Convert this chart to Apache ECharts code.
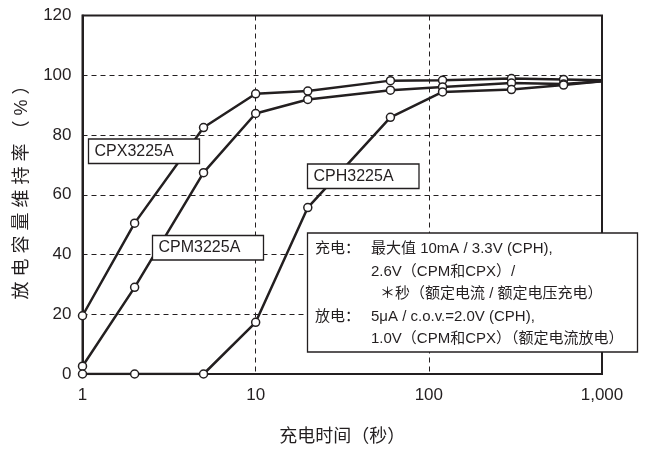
<!DOCTYPE html>
<html>
<head>
<meta charset="utf-8">
<script src="https://cdn.jsdelivr.net/npm/echarts@6/dist/echarts.min.js"></script>
<style>
html,body{margin:0;padding:0;background:#fff;}
#c{width:649px;height:451px;}
</style>
</head>
<body>
<div id="c"></div>
<script>
// ---- data ----
var chargeTimes = [1, 2, 5, 10, 20, 60, 120, 300, 600, 1000];
var cpxValues = [19.5, 50.5, 82.5, 93.8, 94.7, 98.2, 98.3, 98.9, 98.6, 98.3];
var cpmValues = [2.6, 29, 67.4, 87.2, 91.9, 95.0, 96.1, 97.4, 97.1, 98.0];
var cphValues = [0, 0, 0, 17.3, 55.7, 85.9, 94.4, 95.2, 96.7, 98.0];
var seriesNames = ['CPX3225A', 'CPM3225A', 'CPH3225A'];
var yTicks = [0, 20, 40, 60, 80, 100, 120];
var xTickLabels = {1: '1', 10: '10', 100: '100', 1000: '1,000'};
var xAxisTitle = '充电时间（秒）';
var yAxisTitle = '放电容量维持率（%）';
var noteLabels = ['充电：', '放电：'];
var noteLines = ['最大值 10mA / 3.3V (CPH),', '2.6V（CPM和CPX）/', '＊秒（额定电流 / 额定电压充电）',
                 '5μA / c.o.v.=2.0V (CPH),', '1.0V（CPM和CPX）（额定电流放电）'];

var INK = '#231f20';
var FONT = '"Liberation Sans", Arial, "Noto Sans CJK SC", sans-serif';
var CJK = '"Liberation Sans", "Noto Sans CJK SC", sans-serif';

function pairs(vals) {
  return chargeTimes.map(function (t, i) {
    var d = { value: [t, vals[i]] };
    if (i === chargeTimes.length - 1) d.symbol = 'none';
    return d;
  });
}

function mkSeries(name, vals) {
  return {
    name: name, type: 'line', data: pairs(vals),
    symbol: 'circle', symbolSize: 8, showAllSymbol: true,
    lineStyle: { color: INK, width: 2.5 },
    itemStyle: { color: '#fff', borderColor: INK, borderWidth: 1.5 },
    emphasis: { disabled: true }, animation: false, z: 3
  };
}

function labelBox(x, y, w, h, text) {
  return {
    type: 'group', z: 50, children: [
      { type: 'rect', shape: { x: x, y: y, width: w, height: h },
        style: { fill: '#fff', stroke: INK, lineWidth: 1.3 }, z: 50 },
      { type: 'text', x: x + 6, y: y + h / 2,
        style: { text: text, font: '16px ' + FONT, fill: INK, verticalAlign: 'middle' }, z: 51 }
    ]
  };
}

var noteChildren = [
  { type: 'rect', shape: { x: 307.5, y: 233, width: 330, height: 119 },
    style: { fill: '#fff', stroke: INK, lineWidth: 1.3 }, z: 50 }
];
var lineY = [249, 271.5, 294, 316.5, 339];
var lineX = [371, 371, 380, 371, 371];
noteChildren.push({ type: 'text', x: 315, y: lineY[0], style: { text: noteLabels[0], font: '15px ' + CJK, fill: INK, verticalAlign: 'middle' }, z: 51 });
noteChildren.push({ type: 'text', x: 315, y: lineY[3], style: { text: noteLabels[1], font: '15px ' + CJK, fill: INK, verticalAlign: 'middle' }, z: 51 });
noteLines.forEach(function (t, i) {
  noteChildren.push({ type: 'text', x: lineX[i], y: lineY[i],
    style: { text: t, font: '15px ' + CJK, fill: INK, verticalAlign: 'middle' }, z: 51 });
});

var chart = echarts.init(document.getElementById('c'), null, { renderer: 'canvas' });
chart.setOption({
  animation: false,
  backgroundColor: '#fff',
  grid: { left: 82.5, right: 47, top: 15.5, bottom: 75.5, show: true, borderColor: INK, borderWidth: 2, containLabel: false },
  xAxis: {
    type: 'log', logBase: 10, min: 1, max: 1000,
    name: xAxisTitle, nameLocation: 'middle', nameGap: 54,
    nameTextStyle: { fontSize: 18, color: INK, fontFamily: CJK },
    axisLine: { show: true, lineStyle: { color: INK, width: 2 } },
    axisTick: { show: false },
    minorTick: { show: false },
    axisLabel: { fontSize: 17, color: INK, fontFamily: FONT, margin: 13,
      formatter: function (v) { return xTickLabels[Math.round(v)] || ''; } },
    splitLine: { show: true, lineStyle: { color: INK, type: [5, 4], width: 1 } }
  },
  yAxis: {
    type: 'value', min: 0, max: 120, interval: 20,
    axisLine: { show: true, lineStyle: { color: INK, width: 2 } },
    axisTick: { show: false },
    axisLabel: { fontSize: 17, color: INK, fontFamily: FONT, margin: 11,
      formatter: function (v) { return yTicks.indexOf(v) >= 0 ? String(v) : ''; } },
    splitLine: { show: true, lineStyle: { color: INK, type: [5, 4], width: 1 } }
  },
  series: [
    mkSeries(seriesNames[0], cpxValues),
    mkSeries(seriesNames[1], cpmValues),
    mkSeries(seriesNames[2], cphValues)
  ],
  graphic: [
    labelBox(88.5, 139, 111, 24.5, seriesNames[0]),
    labelBox(152.5, 235.5, 111, 24.5, seriesNames[1]),
    labelBox(307.5, 164, 111.5, 24.5, seriesNames[2]),
    { type: 'group', z: 50, children: noteChildren },
    { type: 'text', x: 22, y: 188, rotation: Math.PI / 2,
      style: { text: yAxisTitle.split('').join(' '), font: '18px ' + CJK, fill: INK,
               align: 'center', verticalAlign: 'middle' }, z: 10 }
  ]
});
</script>
</body>
</html>
